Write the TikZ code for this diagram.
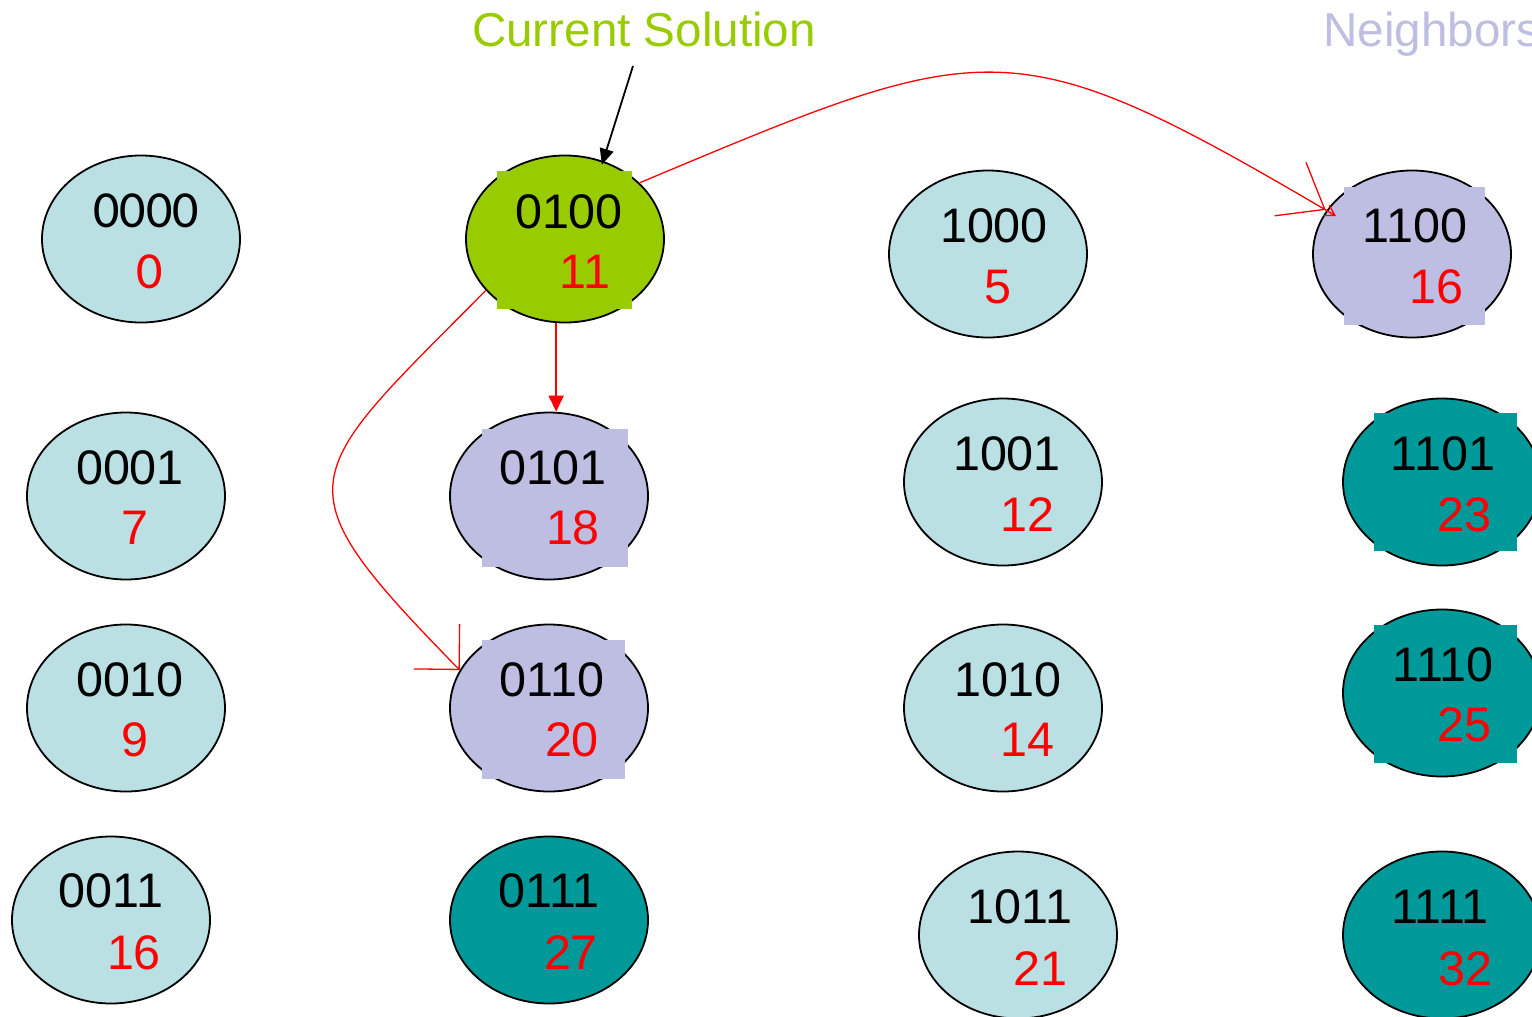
\documentclass[tikz,border=0pt]{standalone}
\usepackage{fontspec}
\setmainfont{Liberation Sans}
\newfontfamily\calibrifont{Carlito}
\usepackage{xcolor}
\usetikzlibrary{shapes.geometric, arrows.meta}

\definecolor{plaincol}{RGB}{186,224,227}
\definecolor{neighcol}{RGB}{190,190,226}
\definecolor{worsecol}{RGB}{0,153,153}
\definecolor{currcol}{RGB}{153,204,0}

\begin{document}
\begin{tikzpicture}[x=1pt,y=-1pt]
	\tikzstyle{sol}=[ellipse, draw=black, line width=1.8pt, minimum width=198pt, minimum height=167pt, inner sep=0pt]
	\tikzstyle{tbox}=[rectangle, inner sep=0pt, minimum width=143pt, minimum height=138pt]
	\tikzstyle{bits}=[inner sep=0pt, font=\fontsize{48.5}{48.5}\selectfont]
	\tikzstyle{val}=[bits, text=red]
	\tikzstyle{link}=[red, line width=1.3pt]

	\useasboundingbox (0,0) rectangle (1532,1017);

	% titles
	\node[anchor=base, text=currcol, font=\fontsize{47.6}{47.6}\selectfont] (cur) at (644,46.5) {Current Solution};
	\node[anchor=base west, text=neighcol, font=\fontsize{47.6}{47.6}\selectfont] (nbr) at (1320,46) {Neighbors};

	% first row
	\node[sol, fill=plaincol] (s0000) at (141,239) {};
	\node[sol, fill=currcol] (s0100) at (565,239) {};
	\node[sol, fill=plaincol] (s1000) at (988,254) {};
	\node[sol, fill=neighcol] (s1100) at (1412,254) {};
	\node[tbox, fill=currcol, minimum width=135pt] (r0100) at (564.5,240) {};
	\node[tbox, fill=neighcol, minimum width=141pt] (r1100) at (1414.5,256) {};
	\node[bits, font=\calibrifont\fontsize{52}{52}\selectfont] (b0000) at (146,211) {0000};
	\node[val, font=\calibrifont\fontsize{52}{52}\selectfont] (v0000) at (150,272) {0};
	\node[bits] (b0100) at (569,212) {0100};
	\node[val] (v0100) at (585,272) {11};
	\node[bits] (b1000) at (994,226) {1000};
	\node[val] (v1000) at (998,287) {5};
	\node[bits] (b1100) at (1415,226) {1100};
	\node[val] (v1100) at (1436,287) {16};

	% second row
	\node[sol, fill=plaincol] (s0001) at (126,496) {};
	\node[sol, fill=neighcol] (s0101) at (549,496) {};
	\node[sol, fill=plaincol] (s1001) at (1003,482) {};
	\node[sol, fill=worsecol] (s1101) at (1442,482) {};
	\node[tbox, fill=neighcol, minimum width=146pt] (r0101) at (555,498) {};
	\node[tbox, fill=worsecol] (r1101) at (1445.5,482) {};
	\node[bits] (b0001) at (130,468) {0001};
	\node[val] (v0001) at (135,528) {7};
	\node[bits] (b0101) at (553,468) {0101};
	\node[val] (v0101) at (573,528) {18};
	\node[bits] (b1001) at (1007,454) {1001};
	\node[val] (v1001) at (1027,515) {12};
	\node[bits] (b1101) at (1443,454) {1101};
	\node[val] (v1101) at (1464,515) {23};

	% third row
	\node[sol, fill=plaincol] (s0010) at (126,708) {};
	\node[sol, fill=neighcol] (s0110) at (549,708) {};
	\node[sol, fill=plaincol] (s1010) at (1003,708) {};
	\node[sol, fill=worsecol] (s1110) at (1442,693) {};
	\node[tbox, fill=neighcol, minimum height=139pt] (r0110) at (553.5,709.5) {};
	\node[tbox, fill=worsecol] (r1110) at (1445.5,694) {};
	\node[bits] (b0010) at (130,680) {0010};
	\node[val] (v0010) at (135,740) {9};
	\node[bits] (b0110) at (552,680) {0110};
	\node[val] (v0110) at (572,740) {20};
	\node[bits] (b1010) at (1008,680) {1010};
	\node[val] (v1010) at (1027,740) {14};
	\node[bits] (b1110) at (1443,665) {1110};
	\node[val] (v1110) at (1464,725) {25};

	% fourth row
	\node[sol, fill=plaincol] (s0011) at (111,920) {};
	\node[sol, fill=worsecol] (s0111) at (549,920) {};
	\node[sol, fill=plaincol] (s1011) at (1018,935) {};
	\node[sol, fill=worsecol] (s1111) at (1442,935) {};
	\node[bits] (b0011) at (111,891) {0011};
	\node[val] (v0011) at (134,953) {16};
	\node[bits] (b0111) at (549,891) {0111};
	\node[val] (v0111) at (571,953) {27};
	\node[bits] (b1011) at (1020,907) {1011};
	\node[val] (v1011) at (1040,969) {21};
	\node[bits] (b1111) at (1440,907) {1111};
	\node[val] (v1111) at (1465,969) {32};

	% arrows
	\coordinate (cs) at (633,66);
	\draw[line width=1.8pt, shorten >=-4pt, -{Triangle[length=16pt,width=14pt]}] (cs) -- (s0100.64);
	\draw[link, line width=1.8pt, -{Triangle[length=16pt,width=15pt]}] (s0100.-96) -- (s0100.-96 |- s0101.north);
	\draw[link, -{Straight Barb[length=32pt,width=64pt]}]
		(s0100.213) .. controls (298,480) and (276,482) .. (s0110.157);
	\draw[link, shorten >=-11pt, -{Straight Barb[length=40pt,width=62pt] Straight Barb[length=10pt,width=12pt]}]
		(s0100.37) .. controls (990,36) and (1010,24) .. (s1100.153);
\end{tikzpicture}
\end{document}
